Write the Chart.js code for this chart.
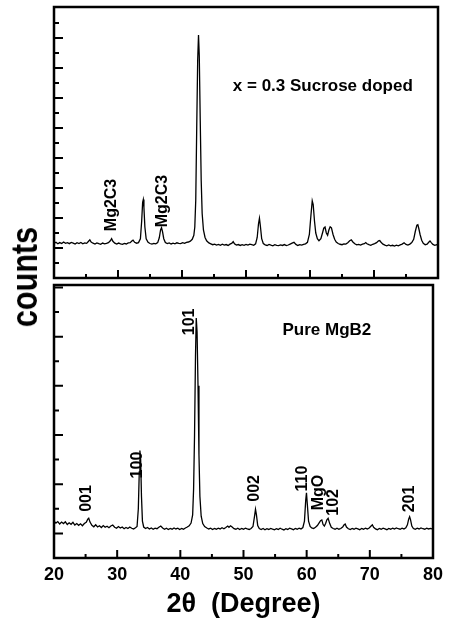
<!DOCTYPE html>
<html>
<head>
<meta charset="utf-8">
<script src="https://cdn.jsdelivr.net/npm/chart.js@4.4.1/dist/chart.umd.min.js"></script>
<style>
  body { margin: 0; background: #fff; }
  #wrap { position: relative; width: 449px; height: 626px; }
  #topChart { position: absolute; left: 0; top: 0; }
  #bottomChart { position: absolute; left: 0; top: 281px; }
  #countsLabel {
    position: absolute; left: 25px; top: 277px;
    font: bold 36px "Liberation Sans", Arial, sans-serif; line-height: 1;
    white-space: nowrap; color: #000;
    transform: translate(-50%, -50%) rotate(-90deg) scaleX(0.85);
  }
</style>
</head>
<body>
<div id="wrap">
  <canvas id="topChart" width="449" height="282"></canvas>
  <canvas id="bottomChart" width="449" height="345"></canvas>
  <div id="countsLabel">counts</div>
</div>
<script>
"use strict"

//Values (2theta in degree, counts in arbitrary units)
const dopedTheta = [20.0, 20.3, 20.6, 20.9, 21.2, 21.5, 21.8, 22.1, 22.4, 22.7, 23.0, 23.3, 23.6, 23.9, 24.2, 24.5, 24.8, 25.1, 25.4, 25.6, 25.8, 26.1, 26.4, 26.7, 27.0, 27.3, 27.6, 27.9, 28.2, 28.5, 28.8, 29.0, 29.2, 29.5, 29.8, 30.1, 30.4, 30.7, 31.0, 31.3, 31.6, 31.9, 32.2, 32.35, 32.6, 32.9, 33.2, 33.5, 33.7, 33.85, 33.95, 34.05, 34.2, 34.4, 34.7, 35.0, 35.3, 35.6, 35.9, 36.2, 36.45, 36.65, 36.8, 36.95, 37.15, 37.4, 37.7, 38.0, 38.3, 38.6, 38.9, 39.2, 39.5, 39.8, 40.1, 40.4, 40.7, 41.0, 41.3, 41.6, 41.85, 42.0, 42.15, 42.3, 42.45, 42.58, 42.7, 42.85, 43.0, 43.15, 43.35, 43.6, 43.85, 44.2, 44.5, 44.8, 45.1, 45.4, 45.7, 46.0, 46.3, 46.6, 46.9, 47.2, 47.5, 47.8, 48.0, 48.2, 48.5, 48.8, 49.1, 49.4, 49.7, 50.0, 50.3, 50.6, 50.9, 51.2, 51.5, 51.75, 51.95, 52.1, 52.25, 52.45, 52.7, 53.0, 53.3, 53.6, 53.9, 54.2, 54.5, 54.8, 55.1, 55.4, 55.7, 56.0, 56.3, 56.6, 56.9, 57.2, 57.5, 57.8, 58.1, 58.4, 58.7, 59.0, 59.3, 59.6, 59.9, 60.15, 60.35, 60.5, 60.7, 60.9, 61.15, 61.4, 61.7, 61.95, 62.15, 62.35, 62.55, 62.75, 62.95, 63.15, 63.35, 63.6, 63.85, 64.1, 64.4, 64.7, 65.0, 65.3, 65.6, 65.9, 66.2, 66.45, 66.7, 67.0, 67.3, 67.6, 67.9, 68.2, 68.5, 68.7, 68.9, 69.2, 69.5, 69.8, 70.1, 70.4, 70.7, 70.9, 71.1, 71.4, 71.7, 72.0, 72.3, 72.6, 72.9, 73.2, 73.5, 73.8, 74.1, 74.4, 74.7, 75.0, 75.3, 75.6, 75.9, 76.2, 76.45, 76.7, 76.85, 77.0, 77.2, 77.45, 77.7, 78.0, 78.3, 78.55, 78.75, 78.95, 79.2, 79.5, 79.8, 80.0];
const dopedCounts = [232, 238, 228, 236, 230, 240, 231, 236, 229, 237, 233, 226, 235, 230, 237, 228, 234, 231, 245, 254, 240, 232, 226, 234, 229, 225, 233, 228, 231, 236, 248, 262, 245, 232, 226, 233, 228, 224, 231, 227, 234, 236, 248, 252, 238, 232, 236, 262, 380, 505, 523, 470, 340, 262, 238, 230, 226, 231, 228, 236, 268, 320, 335, 310, 262, 236, 229, 234, 227, 232, 228, 235, 231, 229, 236, 231, 238, 240, 246, 258, 285, 340, 520, 1000, 1450, 1620, 1480, 1050, 650, 430, 320, 270, 248, 234, 228, 222, 226, 220, 224, 218, 225, 219, 223, 217, 226, 232, 243, 228, 219, 223, 217, 222, 218, 224, 219, 226, 222, 218, 228, 270, 360, 398, 345, 262, 230, 221, 217, 224, 219, 215, 222, 218, 216, 221, 217, 223, 216, 220, 226, 232, 238, 224, 217, 222, 219, 224, 228, 238, 290, 420, 515, 490, 380, 300, 262, 248, 262, 300, 332, 340, 300, 285, 320, 342, 335, 290, 258, 240, 230, 225, 222, 228, 226, 235, 248, 254, 240, 228, 221, 224, 219, 226, 229, 236, 228, 222, 218, 225, 229, 236, 248, 250, 238, 226, 219, 215, 220, 214, 218, 213, 219, 215, 221, 226, 235, 224, 220, 226, 236, 258, 310, 352, 355, 330, 290, 252, 232, 222, 226, 238, 247, 236, 224, 218, 222, 219];

const pureTheta = [20.0, 20.3, 20.6, 20.9, 21.2, 21.5, 21.8, 22.1, 22.4, 22.7, 23.0, 23.3, 23.6, 23.9, 24.2, 24.5, 24.8, 25.1, 25.35, 25.5, 25.7, 26.0, 26.3, 26.6, 26.9, 27.2, 27.5, 27.8, 28.1, 28.4, 28.7, 29.0, 29.3, 29.6, 29.9, 30.2, 30.5, 30.8, 31.1, 31.4, 31.7, 32.0, 32.3, 32.6, 32.9, 33.15, 33.35, 33.5, 33.6, 33.72, 33.85, 34.0, 34.2, 34.5, 34.8, 35.1, 35.4, 35.7, 36.0, 36.3, 36.6, 36.9, 37.2, 37.5, 37.8, 38.1, 38.4, 38.7, 39.0, 39.3, 39.6, 39.9, 40.2, 40.5, 40.8, 41.1, 41.4, 41.7, 41.95, 42.1, 42.25, 42.4, 42.52, 42.65, 42.8, 42.95, 43.1, 43.3, 43.55, 43.85, 44.2, 44.5, 44.8, 45.1, 45.4, 45.7, 46.0, 46.3, 46.6, 46.9, 47.2, 47.5, 47.7, 47.95, 48.2, 48.5, 48.8, 49.1, 49.4, 49.7, 50.0, 50.3, 50.6, 50.9, 51.2, 51.5, 51.75, 51.9, 52.05, 52.25, 52.5, 52.8, 53.1, 53.4, 53.7, 54.0, 54.3, 54.6, 54.9, 55.2, 55.5, 55.8, 56.1, 56.4, 56.7, 57.0, 57.3, 57.6, 57.9, 58.2, 58.5, 58.8, 59.1, 59.4, 59.65, 59.85, 59.97, 60.1, 60.3, 60.55, 60.8, 61.1, 61.4, 61.7, 61.95, 62.2, 62.4, 62.6, 62.8, 63.0, 63.2, 63.4, 63.65, 63.9, 64.2, 64.5, 64.8, 65.1, 65.4, 65.7, 65.9, 66.1, 66.3, 66.6, 66.9, 67.2, 67.5, 67.8, 68.1, 68.4, 68.7, 69.0, 69.3, 69.6, 69.9, 70.2, 70.4, 70.6, 70.9, 71.2, 71.5, 71.8, 72.1, 72.4, 72.7, 73.0, 73.3, 73.6, 73.9, 74.2, 74.5, 74.8, 75.1, 75.4, 75.7, 75.95, 76.15, 76.3, 76.45, 76.65, 76.9, 77.2, 77.5, 77.8, 78.1, 78.4, 78.7, 79.0, 79.3, 79.6, 80.0];
const pureCounts = [150, 142, 148, 138, 146, 140, 147, 136, 143, 137, 145, 134, 140, 133, 139, 131, 140, 145, 158, 162, 146, 133, 127, 135, 126, 131, 124, 132, 125, 129, 123, 130, 134, 125, 121, 128, 122, 126, 119, 124, 120, 126, 121, 118, 123, 128, 200, 350, 437, 400, 250, 150, 126, 120, 124, 118, 122, 117, 121, 119, 125, 130, 122, 117, 121, 116, 120, 117, 122, 118, 121, 116, 120, 117, 122, 126, 131, 142, 175, 280, 500, 820, 976, 920, 700, 420, 250, 170, 140, 128, 122, 118, 121, 116, 120, 117, 121, 118, 123, 119, 124, 130, 125, 131, 126, 119, 117, 121, 116, 120, 117, 121, 118, 116, 120, 128, 170, 198, 175, 132, 120, 116, 120, 115, 119, 116, 120, 117, 115, 119, 116, 121, 117, 114, 119, 116, 121, 118, 115, 120, 117, 121, 118, 124, 150, 235, 265, 220, 150, 128, 122, 120, 125, 132, 142, 152, 155, 136, 130, 140, 155, 161, 140, 125, 120, 117, 121, 117, 120, 126, 134, 138, 126, 119, 116, 120, 117, 121, 118, 115, 120, 117, 121, 118, 122, 130, 135, 125, 118, 115, 120, 117, 121, 118, 115, 120, 117, 121, 118, 122, 119, 117, 121, 118, 123, 135, 158, 168, 155, 130, 120, 117, 121, 118, 122, 119, 117, 121, 118, 120, 117];

//Tick values
const thetaMajor = [20, 30, 40, 50, 60, 70, 80];
const thetaMinor = [25, 35, 45, 55, 65, 75];
const dopedMajor = [200, 400, 600, 800, 1000, 1200, 1400, 1600];
const dopedMinor = [100, 300, 500, 700, 900, 1100, 1300, 1500, 1700];
const pureMajor = [100, 300, 500, 700, 900, 1100];
const pureMinor = [200, 400, 600, 800, 1000];

//Peak labels, anchored at (2theta, counts)
const dopedPeakNames = ['Mg2C3', 'Mg2C3'];
const dopedPeakTheta = [29.06, 36.9];
const dopedPeakCounts = [487, 513];
const purePeakNames = ['001', '100', '101', '002', '110', 'MgO', '102', '201'];
const purePeakTheta = [25.16, 33.28, 41.48, 51.8, 59.4, 61.95, 64.3, 76.25];
const purePeakCounts = [242, 378, 960, 283, 323, 266, 226, 240];

const FONT = '"Liberation Sans", Arial, sans-serif';

//Draws the box, inward ticks and the text inside a panel
const panelFrame = {
    id: 'panelFrame',
    afterDatasetsDraw(chart, args, opts) {
        const ctx = chart.ctx;
        const a = chart.chartArea;
        const x = chart.scales.x;
        const y = chart.scales.y;

        ctx.save();
        ctx.strokeStyle = '#000';
        ctx.lineWidth = 2.5;
        ctx.strokeRect(a.left, a.top, a.right - a.left, a.bottom - a.top);

        ctx.lineWidth = 2;
        ctx.beginPath();
        function xTicks(vals, len) {
            vals.forEach(v => {
                const px = x.getPixelForValue(v);
                ctx.moveTo(px, a.bottom);
                ctx.lineTo(px, a.bottom - len);
            });
        }
        function yTicks(vals, len) {
            vals.forEach(v => {
                const py = y.getPixelForValue(v);
                ctx.moveTo(a.left, py);
                ctx.lineTo(a.left + len, py);
            });
        }
        xTicks(thetaMajor, 8);
        xTicks(thetaMinor, 4);
        yTicks(opts.yMajor, 9);
        yTicks(opts.yMinor, 5);
        ctx.stroke();

        ctx.fillStyle = '#000';
        ctx.textAlign = 'center';
        ctx.textBaseline = 'middle';
        ctx.font = 'bold 16px ' + FONT;
        opts.names.forEach((name, i) => {
            ctx.save();
            ctx.translate(x.getPixelForValue(opts.theta[i]), y.getPixelForValue(opts.counts[i]));
            ctx.rotate(-Math.PI / 2);
            ctx.fillText(name, 0, 0);
            ctx.restore();
        });
        ctx.font = 'bold 17px ' + FONT;
        ctx.fillText(opts.title, x.getPixelForValue(opts.titleAt[0]), y.getPixelForValue(opts.titleAt[1]));
        ctx.restore();
    }
};

function makeData(theta, counts) {
    return {
        datasets: [{
            data: theta.map((t, i) => ({x: t, y: counts[i]})),
            borderColor: '#000',
            borderWidth: 1.3,
            pointRadius: 0,
            tension: 0
        }]
    };
}

//Top panel: sucrose doped
new Chart(document.getElementById('topChart'), {
    type: 'line',
    data: makeData(dopedTheta, dopedCounts),
    plugins: [panelFrame],
    options: {
        responsive: false,
        animation: false,
        layout: { padding: { left: 54, right: 11, top: 7, bottom: 4 } },
        scales: {
            x: { type: 'linear', min: 20, max: 80, display: false },
            y: { min: 0, max: 1807, display: false }
        },
        plugins: {
            legend: { display: false },
            tooltip: { enabled: false },
            panelFrame: {
                yMajor: dopedMajor, yMinor: dopedMinor,
                names: dopedPeakNames, theta: dopedPeakTheta, counts: dopedPeakCounts,
                title: 'x = 0.3 Sucrose doped', titleAt: [62.0, 1280]
            }
        }
    }
});

//Bottom panel: pure MgB2
new Chart(document.getElementById('bottomChart'), {
    type: 'line',
    data: makeData(pureTheta, pureCounts),
    plugins: [panelFrame],
    options: {
        responsive: false,
        animation: false,
        layout: { padding: { left: 54, right: 11, top: 4, bottom: 0 } },
        scales: {
            x: {
                type: 'linear', min: 20, max: 80,
                afterBuildTicks: scale => { scale.ticks = thetaMajor.map(v => ({ value: v })); },
                afterFit: scale => { scale.height = 68; },
                grid: { display: false, drawTicks: false },
                border: { display: false },
                ticks: { color: '#000', padding: 6, maxRotation: 0, font: { family: FONT, size: 18, weight: 'bold' } },
                title: {
                    display: true, text: '2θ  (Degree)', color: '#000',
                    padding: { top: 0, bottom: 5 },
                    font: { family: FONT, size: 27, weight: 'bold' }
                }
            },
            y: { min: 0, max: 1110, display: false }
        },
        plugins: {
            legend: { display: false },
            tooltip: { enabled: false },
            panelFrame: {
                yMajor: pureMajor, yMinor: pureMinor,
                names: purePeakNames, theta: purePeakTheta, counts: purePeakCounts,
                title: 'Pure MgB2', titleAt: [63.2, 924]
            }
        }
    }
});
</script>
</body>
</html>
